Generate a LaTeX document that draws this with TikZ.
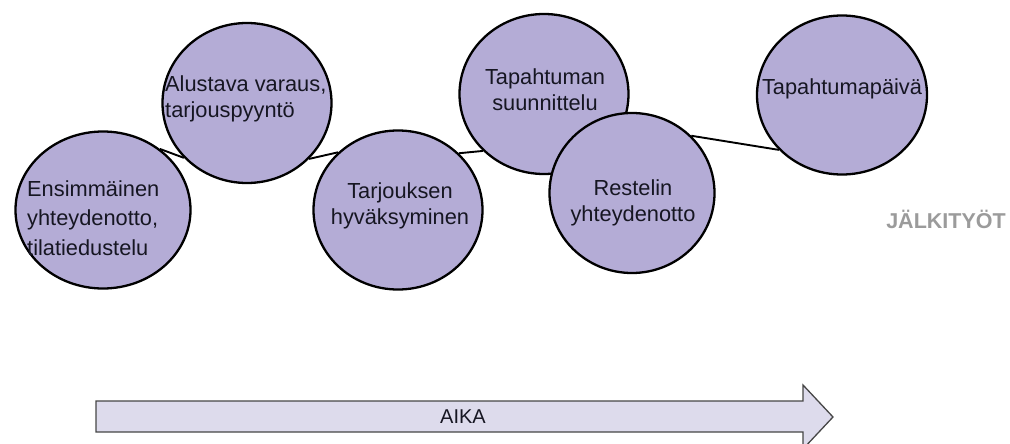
\documentclass[tikz,border=0pt]{standalone}
\usepackage{fontspec}
\setmainfont{Liberation Sans}
\usetikzlibrary{shapes.geometric}
\definecolor{bubble}{RGB}{180,172,214}
\definecolor{arrowfill}{RGB}{221,219,236}
\definecolor{arrowline}{RGB}{70,70,70}
\definecolor{txt}{RGB}{22,22,34}
\definecolor{grayt}{RGB}{155,155,155}
\tikzset{
  bubblenode/.style={ellipse, draw=black, line width=2.3pt, fill=bubble, inner sep=0pt},
  btext/.style={text=txt, inner sep=0pt, font=\fontsize{21.8}{26}\selectfont},
  link/.style={draw=black, line width=1.9pt},
}
\begin{document}
\begin{tikzpicture}[x=1pt,y=-1pt]
\useasboundingbox (0,0) rectangle (1010,444);
% bubbles
\node[bubblenode, minimum width=175pt, minimum height=157pt] (c1) at (103,210) {};
\node[bubblenode, minimum width=169pt, minimum height=160pt] (c2) at (247,103) {};
\node[bubblenode, minimum width=169pt, minimum height=159pt] (c3) at (398,210) {};
\node[bubblenode, minimum width=169pt, minimum height=160pt] (c4) at (544,94) {};
\node[bubblenode, minimum width=165pt, minimum height=160pt] (c5) at (632,193) {};
\node[bubblenode, minimum width=170pt, minimum height=159pt] (c6) at (842,95) {};
% connectors
\draw[link] (c1.47.6) -- (c2.221.6);
\draw[link] (c2.318) -- (c3.136.5);
\draw[link] (c3.43) -- (c4.223.5);
\draw[link] (c5.44) -- (c6.221);
% texts
\node[btext, align=left, anchor=west, font=\fontsize{21.8}{29.5}\selectfont] (t1) at (27,218) {Ensimmäinen\\yhteydenotto,\\tilatiedustelu};
\node[btext, align=left, anchor=west, font=\fontsize{21.8}{25.5}\selectfont] (t2) at (165,99) {Alustava varaus,\\tarjouspyyntö};
\node[btext, align=center] (t3) at (400,206) {Tarjouksen\\hyväksyminen};
\node[btext, align=center] (t4) at (545,90) {Tapahtuman\\suunnittelu};
\node[btext, align=center] (t5) at (633,203) {Restelin\\yhteydenotto};
\node[btext] (t6) at (842,89) {Tapahtumapäivä};
\node[text=grayt, inner sep=0pt, font=\fontsize{21.5}{26}\selectfont\bfseries] (jt) at (946,219) {JÄLKITYÖT};
% time arrow
\draw[fill=arrowfill, draw=arrowline, line width=1.3pt]
  (96,401) -- (803,401) -- (803,385) -- (833,417) -- (803,449) -- (803,432) -- (96,432) -- cycle;
\node[text=txt, inner sep=0pt, font=\fontsize{20}{24}\selectfont] (aika) at (463,417) {AIKA};
\end{tikzpicture}
\end{document}
